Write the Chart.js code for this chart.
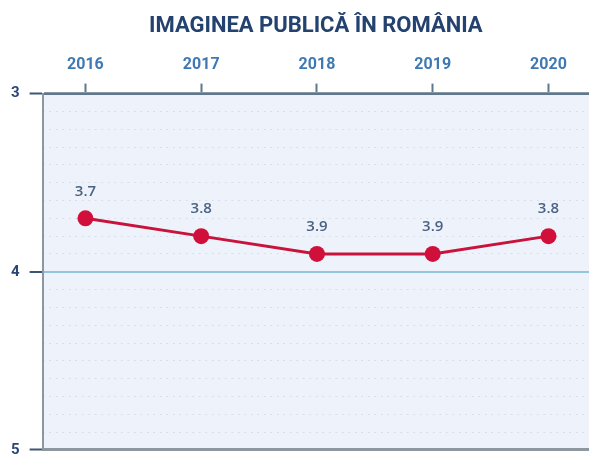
<!DOCTYPE html>
<html>
<head>
<meta charset="utf-8">
<script src="https://cdn.jsdelivr.net/npm/chart.js@4.4.1/dist/chart.umd.min.js"></script>
<style>
  html, body { margin: 0; padding: 0; background: #ffffff; }
  #wrap { position: relative; width: 589px; height: 460px; }
</style>
</head>
<body>
<div id="wrap"><canvas id="imagine-chart" width="589" height="460"></canvas></div>
<script>
  'use strict';

  // Chart data
  const years = [2016, 2017, 2018, 2019, 2020];
  const scores = [3.7, 3.8, 3.9, 3.9, 3.8];
  const yTicks = [3, 4, 5];
  const chartTitle = 'IMAGINEA PUBLICĂ ÎN ROMÂNIA';

  // Minor dotted rows, one every 0.1
  const minorRows = [];
  for (let i = 0; i <= 20; i++) minorRows.push(3 + i / 10);

  const areaFill = {
    id: 'areaFill',
    beforeDraw(chart) {
      const { ctx, chartArea: a } = chart;
      ctx.save();
      ctx.fillStyle = '#eef3fb';
      ctx.fillRect(a.left, a.top, a.right - a.left, a.bottom - a.top);
      ctx.restore();
    }
  };

  const valueLabels = {
    id: 'valueLabels',
    afterDatasetsDraw(chart) {
      const ctx = chart.ctx;
      const meta = chart.getDatasetMeta(0);
      ctx.save();
      ctx.font = '600 15px "Open Sans", sans-serif';
      ctx.fillStyle = '#4a6283';
      ctx.textAlign = 'center';
      ctx.textBaseline = 'middle';
      meta.data.forEach((pt, i) => {
        ctx.fillText(scores[i].toFixed(1), pt.x, pt.y - 27);
      });
      ctx.restore();
    }
  };

  new Chart(document.getElementById('imagine-chart'), {
    type: 'line',
    data: {
      datasets: [{
        data: years.map((y, i) => ({ x: y, y: scores[i] })),
        borderColor: '#c8143c',
        backgroundColor: '#d0103a',
        borderWidth: 3,
        pointRadius: 8,
        pointHoverRadius: 8,
        pointBorderWidth: 0,
        tension: 0
      }]
    },
    options: {
      responsive: false,
      animation: false,
      layout: { autoPadding: false, padding: { left: 1, right: 0, top: 0, bottom: 0 } },
      plugins: {
        legend: { display: false },
        tooltip: { enabled: false },
        title: {
          display: true,
          text: chartTitle,
          fullSize: false,
          color: '#23426f',
          font: { family: 'Roboto', size: 22, weight: 'bold' },
          padding: { top: 13, bottom: 7 }
        }
      },
      scales: {
        x: {
          type: 'linear',
          position: 'top',
          min: 2015.63,
          max: 2020.35,
          afterBuildTicks: axis => { axis.ticks = years.map(v => ({ value: v })); },
          ticks: {
            callback: v => String(v),
            color: '#3f79b3',
            font: { family: 'Roboto', size: 16, weight: 'bold' },
            padding: 9,
            maxRotation: 0
          },
          grid: {
            drawOnChartArea: false,
            tickLength: 10,
            tickColor: '#5d7890',
            tickWidth: 2
          },
          border: { color: '#5d7890', width: 2 }
        },
        yMinor: {
          type: 'linear',
          position: 'left',
          reverse: true,
          min: 3,
          max: 5,
          afterBuildTicks: axis => { axis.ticks = minorRows.map(v => ({ value: v })); },
          ticks: { display: false },
          grid: {
            drawTicks: false,
            color: 'rgba(170,182,205,0.4)',
            lineWidth: 1
          },
          border: { display: false, dash: [1.5, 5] }
        },
        y: {
          type: 'linear',
          position: 'left',
          reverse: true,
          min: 3,
          max: 5,
          afterBuildTicks: axis => { axis.ticks = yTicks.map(v => ({ value: v })); },
          ticks: {
            callback: v => String(v),
            color: '#2a4677',
            // tiny lineHeight keeps the end labels from padding the plot area
            font: { family: 'Roboto', size: 15, weight: 'bold', lineHeight: 0.01 },
            padding: 10
          },
          grid: {
            color: ctx => ctx.tick && ctx.tick.value === 4 ? '#93c4e0' : '#8d979f',
            lineWidth: ctx => ctx.tick && ctx.tick.value === 4 ? 2 : 3,
            tickLength: 13,
            tickColor: '#3d5575',
            tickWidth: 2
          },
          border: { color: '#8d979f', width: 2 }
        }
      }
    },
    plugins: [areaFill, valueLabels]
  });
</script>
</body>
</html>
